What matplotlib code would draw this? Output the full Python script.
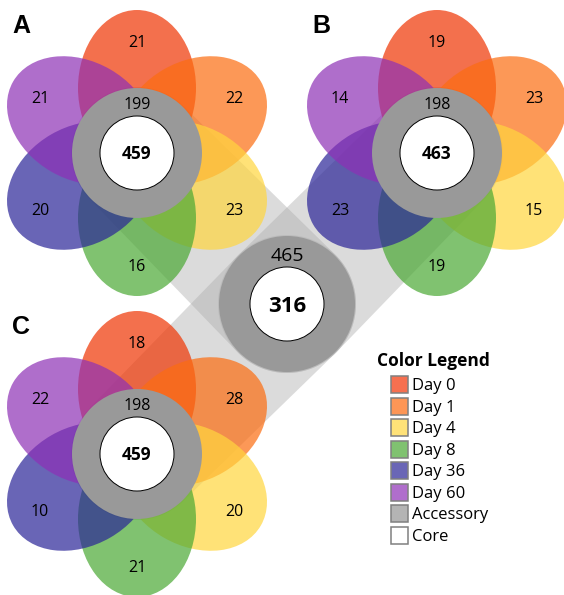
import numpy as np
import matplotlib
matplotlib.use("Agg")
import matplotlib.pyplot as plt
from matplotlib.patches import Ellipse, Circle, Polygon, Rectangle

plt.rcParams['font.family'] = ['Open Sans', 'DejaVu Sans']

# six sampling days, one petal each (clockwise from the top)
days = ["Day 0", "Day 1", "Day 4", "Day 8", "Day 36", "Day 60"]
petal_angles = [90, 30, -30, -90, -150, 150]
legend_colors = ["#F67050", "#FD9656", "#FFE278", "#80C270", "#6A66B6", "#B06ECC"]
petal_colors = ["#EF3402", "#FC6C10", "#FFD63E", "#4AA833", "#2A2497", "#8E30B6"]

# genes unique to each day, per panel
panels = ["A", "B", "C"]
unique_a = [21, 22, 23, 16, 20, 21]
unique_b = [19, 23, 15, 19, 23, 14]
unique_c = [18, 28, 20, 21, 10, 22]
accessory = [199, 198, 198]
core = [459, 463, 459]

# pooled set in the middle
pooled_accessory = 465
pooled_core = 316

W, H = 564, 595
fig = plt.figure(figsize=(W / 100, H / 100), dpi=100)
ax = fig.add_axes([0, 0, 1, 1])
ax.set_xlim(0, W)
ax.set_ylim(H, 0)
ax.axis("off")

flower_xy = [(137, 153), (437, 153), (137, 454)]
hub_xy = (287, 304)
ring_r, core_r = 65, 37
hub_ring_r = 68
petal_d, petal_a, petal_b = 65, 78, 59
label_r = 112


def em(pt):
    return pt * 100 / 72


def put_num(x, y, s, pt, bold=False):
    # baseline-anchored so digits sit centred on (x, y)
    ax.text(x, y + 0.357 * em(pt), str(s), fontsize=pt, ha="center",
            va="baseline", fontweight="bold" if bold else "normal",
            color="black", zorder=10)


def hull(p1, r1, p2, r2, n=120):
    p1, p2 = np.array(p1, float), np.array(p2, float)
    d = p2 - p1
    dist = np.hypot(*d)
    phi = np.arctan2(d[1], d[0])
    alpha = np.arccos((r1 - r2) / dist)
    t1 = np.linspace(phi + alpha, phi + 2 * np.pi - alpha, n)
    t2 = np.linspace(phi - alpha, phi + alpha, n)
    a1 = np.c_[p1[0] + r1 * np.cos(t1), p1[1] + r1 * np.sin(t1)]
    a2 = np.c_[p2[0] + r2 * np.cos(t2), p2[1] + r2 * np.sin(t2)]
    return np.vstack([a1, a2])


# connector bands from each flower to the pooled circle
for xy in flower_xy:
    ax.add_patch(Polygon(hull(xy, 66, hub_xy, 69), closed=True,
                         facecolor="#ADADAD", alpha=0.43, edgecolor="none",
                         zorder=1))

for (cx, cy), label, counts, acc, cor in zip(
        flower_xy, panels, [unique_a, unique_b, unique_c], accessory, core):
    for ang, col in zip(petal_angles, petal_colors):
        t = np.radians(ang)
        ex, ey = cx + petal_d * np.cos(t), cy - petal_d * np.sin(t)
        ax.add_patch(Ellipse((ex, ey), 2 * petal_a, 2 * petal_b, angle=-ang,
                             facecolor=col, alpha=0.7, edgecolor="none",
                             zorder=2))
    ax.add_patch(Circle((cx, cy), ring_r, facecolor="#999999",
                        edgecolor="none", zorder=3))
    ax.add_patch(Circle((cx, cy), core_r, facecolor="white",
                        edgecolor="black", lw=0.7, zorder=4))
    for ang, n in zip(petal_angles, counts):
        t = np.radians(ang)
        put_num(cx + label_r * np.cos(t), cy - label_r * np.sin(t), n, 11.5)
    put_num(cx, cy - 50, acc, 11.5)
    put_num(cx, cy, cor, 12.5, bold=True)
    ax.text(cx - 125, cy - 120, label, fontsize=18, fontweight="bold",
            family=["Liberation Sans", "DejaVu Sans"], ha="left",
            va="baseline", zorder=10)

hx, hy = hub_xy
ax.add_patch(Circle(hub_xy, hub_ring_r, facecolor="#999999",
                    edgecolor="none", zorder=3))
ax.add_patch(Circle(hub_xy, core_r, facecolor="white", edgecolor="black",
                    lw=0.7, zorder=4))
put_num(hx, hy - 50, pooled_accessory, 14)
put_num(hx, hy, pooled_core, 16, bold=True)

# legend
ax.text(377, 366, "Color Legend", fontsize=12.5, fontweight="bold",
        ha="left", va="baseline")
leg_labels = days + ["Accessory", "Core"]
leg_colors = legend_colors + ["#B4B4B4", "white"]
for i, (lab, col) in enumerate(zip(leg_labels, leg_colors)):
    yc = 384.5 + i * 21.5
    ax.add_patch(Rectangle((391, yc - 8.5), 17, 17, facecolor=col,
                           edgecolor="#808080", lw=1.1))
    ax.text(412, yc + 0.357 * em(12), lab, fontsize=12, ha="left",
            va="baseline")

fig.savefig("out.png", dpi=100)
